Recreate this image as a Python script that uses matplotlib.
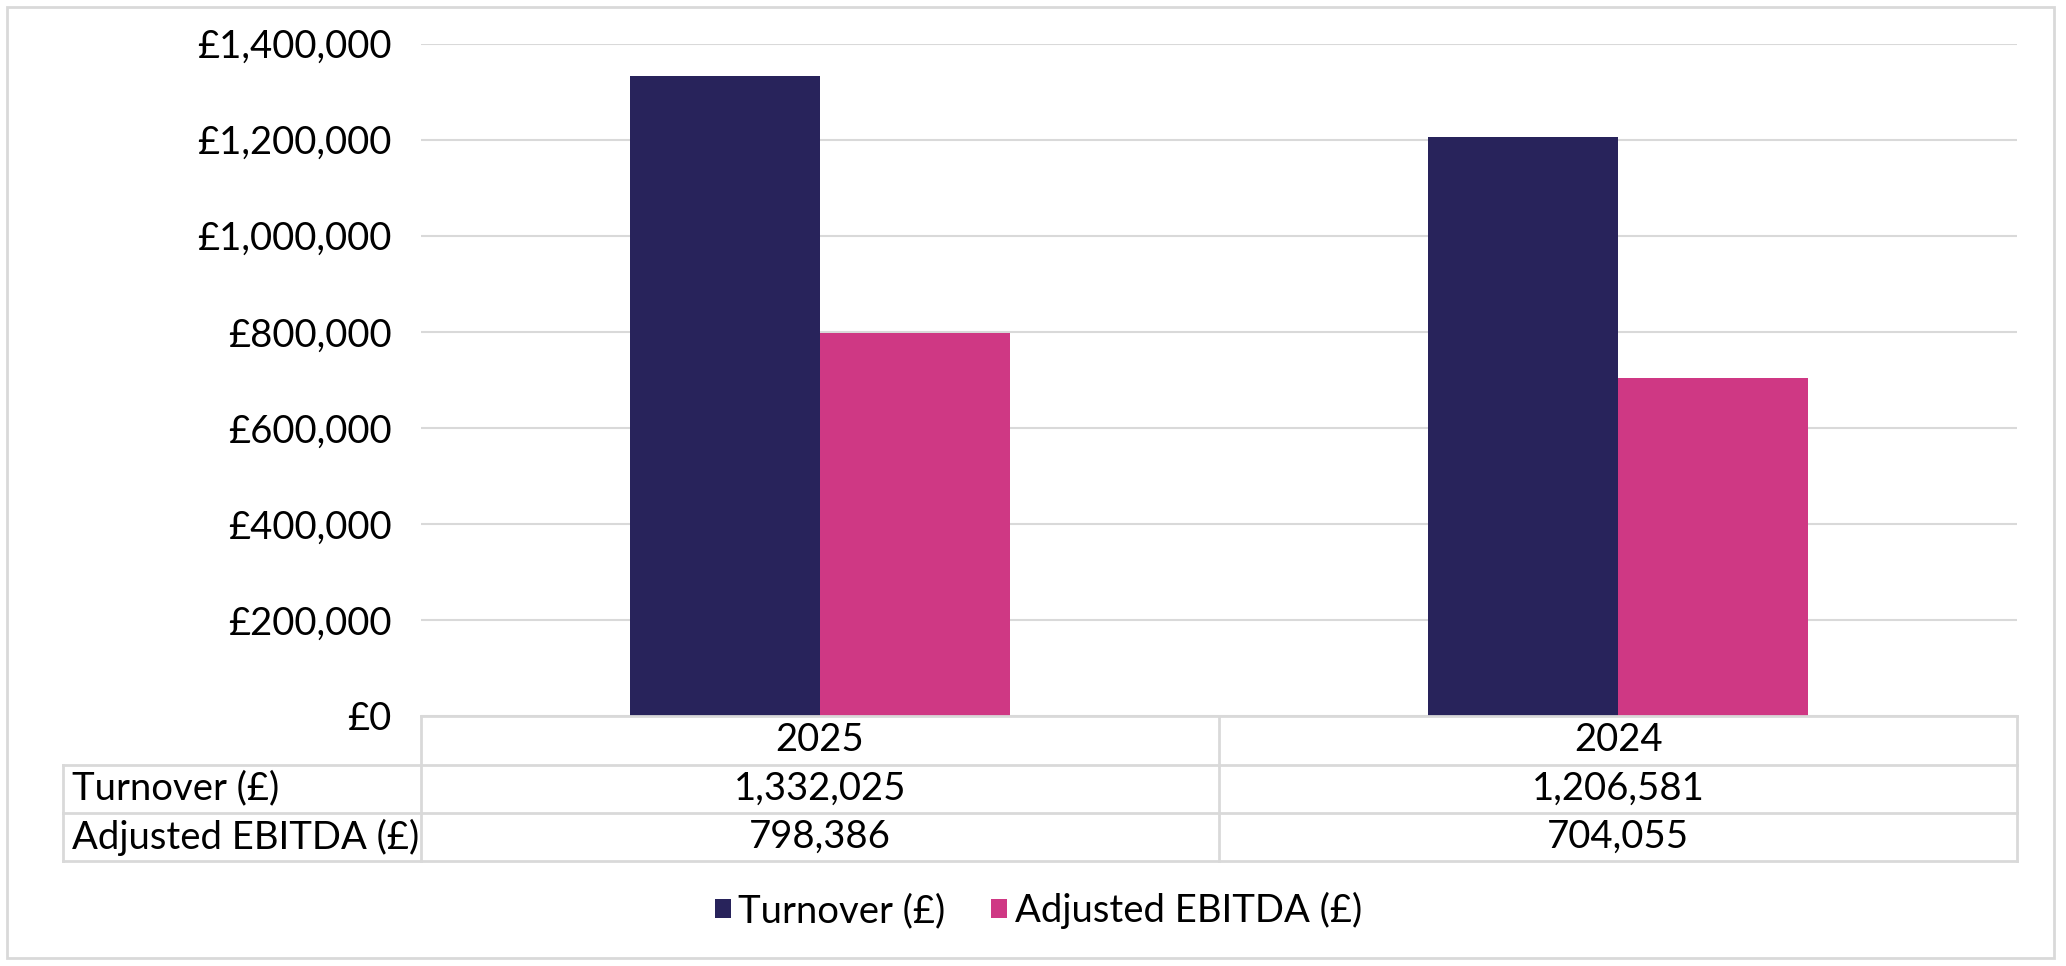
import matplotlib
matplotlib.use("Agg")
import matplotlib.pyplot as plt
from matplotlib.lines import Line2D
from matplotlib.patches import Rectangle
from matplotlib.ticker import FuncFormatter
import numpy as np

plt.rcParams["font.family"] = ["Lato", "DejaVu Sans"]

# ---- data ----
years = ["2025", "2024"]
series = ["Turnover (£)", "Adjusted EBITDA (£)"]
turnover = [1332025, 1206581]
ebitda = [798386, 704055]
yticks = [0, 200000, 400000, 600000, 800000, 1000000, 1200000, 1400000]

NAVY, PINK, GRID = "#28235b", "#cf3884", "#d9d9d9"
FS = 27.5

# layout (figure fractions)
L, X0, X1 = 0.0307, 0.2036, 0.9765
Y0, Y1, Y2, Y3 = 0.2589, 0.2082, 0.1589, 0.1082
YT = 0.9548

fig = plt.figure(figsize=(20.66, 9.66), dpi=100)
ax = fig.add_axes([X0, Y0, X1 - X0, YT - Y0])

x = np.arange(len(years))
w = 0.238
ax.bar(x - w / 2, turnover, w, color=NAVY, label=series[0], zorder=3)
ax.bar(x + w / 2, ebitda, w, color=PINK, label=series[1], zorder=3)

ax.set_xlim(-0.5, len(years) - 0.5)
ax.set_ylim(0, yticks[-1])
ax.set_yticks(yticks)
ax.yaxis.set_major_formatter(FuncFormatter(lambda v, p: f"£{v:,.0f}"))
ax.tick_params(axis="y", length=0, pad=21, labelsize=FS)
ax.set_xticks([])
ax.grid(axis="y", color=GRID, lw=1.5, zorder=0)
for s in ax.spines.values():
    s.set_visible(False)

# ---- data table under the plot ----
XM = (X0 + X1) / 2
lw = 2.0
def line(xs, ys):
    fig.add_artist(Line2D(xs, ys, color=GRID, lw=lw, transform=fig.transFigure))

line([X0, X1], [Y0, Y0])
for yy in (Y1, Y2, Y3):
    line([L, X1], [yy, yy])
line([X0, X0], [Y0, Y3])
line([XM, XM], [Y0, Y3])
line([X1, X1], [Y0, Y3])
line([L, L], [Y1, Y3])

cols = [(X0 + XM) / 2, (XM + X1) / 2]
for c, yr in zip(cols, years):
    fig.text(c, (Y0 + Y1) / 2, yr, ha="center", va="center", fontsize=FS)
rows = [(series[0], turnover), (series[1], ebitda)]
for (lab, vals), (ya, yb) in zip(rows, [(Y1, Y2), (Y2, Y3)]):
    yc = (ya + yb) / 2
    fig.text(L + 0.004, yc, lab, ha="left", va="center", fontsize=FS)
    for c, v in zip(cols, vals):
        fig.text(c, yc, f"{v:,}", ha="center", va="center", fontsize=FS)

# ---- legend ----
fig.legend(loc="center", bbox_to_anchor=(0.5026, 0.0575), ncol=2, frameon=False,
           fontsize=FS, handlelength=0.42, handleheight=0.42, handletextpad=0.2,
           columnspacing=1.2)

# outer border
fig.add_artist(Rectangle((0.0032, 0.0082), 0.9942 - 0.0032, 0.9932 - 0.0082,
                         fill=False, ec=GRID, lw=2, transform=fig.transFigure))

fig.savefig("out.png", dpi=100, facecolor="white")
